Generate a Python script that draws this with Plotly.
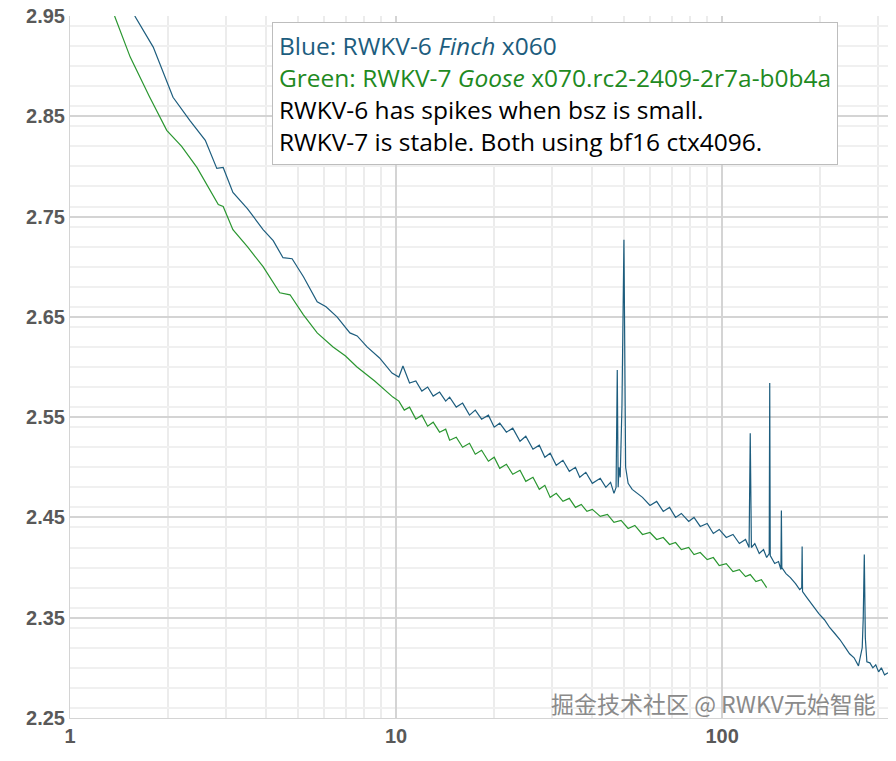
import plotly.graph_objects as go

blue_x = [1.58, 1.80, 2.07, 2.33, 2.60, 2.82, 2.95, 3.16, 3.5, 3.91, 4.2, 4.50, 4.80, 5.2, 5.73, 6.1, 6.59, 7.22, 7.6, 8.15, 8.9, 9.72, 10.2, 10.5, 11.0,
          11.5, 12.0, 12.5, 13.0, 13.6, 14.2, 14.6, 15.3, 16.0, 16.8, 17.5, 18.3, 19.2, 20.0, 20.8, 21.8, 22.8, 24.0, 25.0, 26.3, 27.5, 28.6, 29.7,
          31.0, 32.5, 34.0, 35.5, 36.6, 38.2, 40.0, 42.3, 44.0, 45.5, 46.6, 47.3, 47.7, 48.0, 48.3, 48.7, 49.3, 50.0, 50.6, 51.5, 53.0, 55.0, 57.0, 60.1,
          63, 66, 69, 72, 75, 79, 82, 85.7, 90, 94, 98, 103, 108, 113, 118, 121, 122, 123, 126, 130, 134, 137, 139.5, 140, 140.5, 145, 149, 151.5, 152, 152.5,
          157, 162, 168, 173, 175.5, 176, 176.5, 182, 190, 198, 206, 214, 222, 230, 238, 246, 254, 262, 269, 271, 273, 275, 278, 284, 290, 296, 302, 308, 315, 323]
blue_y = [2.950, 2.919, 2.869, 2.846, 2.826, 2.798, 2.799, 2.774, 2.758, 2.737, 2.726, 2.709, 2.708, 2.690, 2.665, 2.660, 2.650, 2.634, 2.631, 2.620, 2.609, 2.594, 2.590, 2.601, 2.584,
          2.586, 2.576, 2.580, 2.571, 2.575, 2.566, 2.570, 2.560, 2.564, 2.552, 2.557, 2.548, 2.552, 2.540, 2.544, 2.535, 2.539, 2.526, 2.531, 2.518, 2.522, 2.510, 2.514,
          2.502, 2.507, 2.496, 2.500, 2.490, 2.495, 2.484, 2.489, 2.480, 2.485, 2.474, 2.480, 2.597, 2.480, 2.500, 2.490, 2.560, 2.727, 2.500, 2.484, 2.478, 2.474, 2.470, 2.462,
          2.466, 2.456, 2.460, 2.450, 2.454, 2.446, 2.450, 2.441, 2.444, 2.434, 2.438, 2.430, 2.433, 2.424, 2.428, 2.420, 2.534, 2.420, 2.424, 2.414, 2.418, 2.410, 2.414, 2.584, 2.412, 2.404, 2.406, 2.398, 2.457, 2.400,
          2.394, 2.390, 2.384, 2.378, 2.380, 2.421, 2.376, 2.370, 2.362, 2.354, 2.348, 2.340, 2.334, 2.328, 2.321, 2.314, 2.310, 2.302, 2.320, 2.350, 2.413, 2.330, 2.306, 2.305, 2.300, 2.303, 2.296, 2.300, 2.293, 2.295]

green_x = [1.37, 1.53, 1.75, 1.98, 2.2, 2.45, 2.85, 2.95, 3.16, 3.5, 3.91, 4.40, 4.73, 5.2, 5.73, 6.41, 7.0, 7.59, 8.6, 9.78, 10.2, 10.6, 11.0,
           11.5, 12.0, 12.5, 13.0, 13.6, 14.2, 14.6, 15.3, 16.0, 16.8, 17.5, 18.3, 19.2, 20.0, 20.8, 21.8, 22.8, 24.0, 25.0, 26.3, 27.5, 28.6, 29.7,
           31.0, 32.5, 34.0, 35.5, 37.0, 38.5, 40.0, 42.3, 44.5, 46.6, 49.0, 51.5, 54.0, 57.0, 60.1, 63, 66, 69, 72, 75, 79, 82, 85.7, 90, 94, 98, 103,
           108, 113, 118, 122, 127, 132, 137]
green_y = [2.950, 2.909, 2.870, 2.836, 2.820, 2.799, 2.762, 2.760, 2.737, 2.720, 2.700, 2.674, 2.672, 2.652, 2.634, 2.620, 2.611, 2.600, 2.586, 2.570, 2.566, 2.557, 2.560,
           2.548, 2.552, 2.541, 2.545, 2.535, 2.538, 2.527, 2.530, 2.520, 2.524, 2.513, 2.517, 2.506, 2.510, 2.499, 2.503, 2.493, 2.497, 2.486, 2.490, 2.478, 2.482, 2.470,
           2.474, 2.466, 2.469, 2.460, 2.463, 2.456, 2.458, 2.451, 2.453, 2.445, 2.447, 2.439, 2.442, 2.433, 2.435, 2.428, 2.430, 2.423, 2.425, 2.418, 2.420, 2.413, 2.415,
           2.408, 2.410, 2.402, 2.404, 2.396, 2.398, 2.391, 2.393, 2.386, 2.388, 2.380, 2.382]

x_ticks = [1, 10, 100]
x_labels = ["1", "10", "100"]
y_ticks = [2.25, 2.35, 2.45, 2.55, 2.65, 2.75, 2.85, 2.95]

fig = go.Figure()
fig.add_trace(go.Scatter(x=green_x, y=green_y, mode="lines", line=dict(color="#2a9630", width=1.2), showlegend=False))
fig.add_trace(go.Scatter(x=blue_x, y=blue_y, mode="lines", line=dict(color="#1d5d7e", width=1.2), showlegend=False))

tickfont = dict(family="Liberation Sans", size=20, color="#595959", weight="bold")
fig.update_layout(
    width=888, height=753, margin=dict(l=62, r=6, t=8, b=43),
    plot_bgcolor="white", paper_bgcolor="white",
    xaxis=dict(type="log", range=[0, 2.515], tickvals=x_ticks, ticktext=x_labels, tickfont=tickfont, automargin=False,
               ticklabeloverflow="allow",
               showgrid=True, gridcolor="#d4d4d4", gridwidth=1.5, zeroline=False,
               showline=True, linecolor="#d4d4d4",
               minor=dict(showgrid=True, gridcolor="#ececec", tickvals=[2,3,4,5,6,7,8,9,20,30,40,50,60,70,80,90,200,300])),
    yaxis=dict(range=[2.25, 2.95], tickvals=y_ticks, tickfont=tickfont, tickformat=".2f", automargin=False,
               ticklabeloverflow="allow",
               showgrid=True, gridcolor="#d4d4d4", gridwidth=1.5, zeroline=False,
               showline=True, linecolor="#d4d4d4",
               minor=dict(showgrid=True, gridcolor="#f0f0f0", dtick=0.02)),
    font=dict(family="Open Sans"),
)
fig.add_annotation(xref="paper", yref="paper", x=0.246, y=0.991, xanchor="left", yanchor="top", align="left",
    text=("<span style='color:#1d5d7e'>Blue: RWKV-6 <i>Finch</i> x060</span><br>"
          "<span style='color:#1f8a1f'>Green: RWKV-7 <i>Goose</i> x070.rc2-2409-2r7a-b0b4a</span><br>"
          "RWKV-6 has spikes when bsz is small.<br>RWKV-7 is stable. Both using bf16 ctx4096."),
    font=dict(family="Open Sans", size=24.5, color="black"), bgcolor="white", bordercolor="#bdbdbd", borderwidth=1, borderpad=6,
    showarrow=False)
fig.add_annotation(xref="paper", yref="paper", x=0.985, y=-0.005, xanchor="right", yanchor="bottom",
    text="掘金技术社区 @ RWKV元始智能", font=dict(family="Noto Sans CJK SC", size=23, color="#8a8a8a"), showarrow=False)
fig.write_html("out.html")
